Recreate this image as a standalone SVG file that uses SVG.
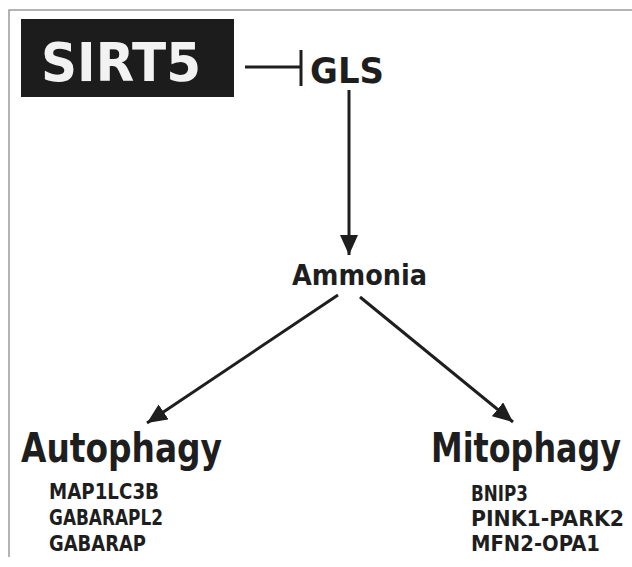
<svg xmlns="http://www.w3.org/2000/svg" width="632" height="567" viewBox="0 0 632 567">
<defs>
<style>
.t{font-family:"DejaVu Sans","Liberation Sans",sans-serif;font-weight:bold;fill:#1e1e1e}
.sub{font-size:21px}
.big{font-size:40px}
.ln{stroke:#1e1e1e;stroke-width:3;fill:none}
</style>
<marker id="ah" markerUnits="userSpaceOnUse" markerWidth="22" markerHeight="18" refX="20" refY="9" orient="auto">
<path d="M0,0 L20,9 L0,18 Z" fill="#1e1e1e"/>
</marker>
</defs>
<rect x="0" y="0" width="632" height="567" fill="#ffffff"/>
<path d="M9,557 V10 H632" fill="none" stroke="#9a9a9a" stroke-width="1.5"/>
<g id="sirt5">
<rect x="21" y="19" width="213" height="78" fill="#1c1c1c"/>
<text class="t" x="41" y="81" font-size="53" textLength="160" lengthAdjust="spacingAndGlyphs" style="fill:#f2f2f2">SIRT5</text>
</g>
<g id="gls">
<text class="t" x="310" y="83" font-size="36" textLength="74" lengthAdjust="spacingAndGlyphs">GLS</text>
</g>
<g id="ammonia">
<text class="t" x="292" y="285" font-size="29" textLength="135" lengthAdjust="spacingAndGlyphs">Ammonia</text>
</g>
<g id="autophagy">
<text class="t big" x="21" y="462" textLength="201" lengthAdjust="spacingAndGlyphs">Autophagy</text>
<text class="t sub" x="49" y="499" textLength="110" lengthAdjust="spacingAndGlyphs">MAP1LC3B</text>
<text class="t sub" x="49" y="525" textLength="114" lengthAdjust="spacingAndGlyphs">GABARAPL2</text>
<text class="t sub" x="49" y="551" textLength="97" lengthAdjust="spacingAndGlyphs">GABARAP</text>
</g>
<g id="mitophagy">
<text class="t big" x="431" y="462" textLength="190" lengthAdjust="spacingAndGlyphs">Mitophagy</text>
<text class="t sub" x="471" y="501" textLength="57" lengthAdjust="spacingAndGlyphs">BNIP3</text>
<text class="t sub" x="471" y="526" textLength="153" lengthAdjust="spacingAndGlyphs">PINK1-PARK2</text>
<text class="t sub" x="471" y="551" textLength="129" lengthAdjust="spacingAndGlyphs">MFN2-OPA1</text>
</g>
<g id="connectors">
<path class="ln" d="M245,67 H301"/>
<path class="ln" d="M301,50 V86"/>
<path class="ln" d="M349,90 V255" marker-end="url(#ah)"/>
<path class="ln" d="M338,295 L147,423" marker-end="url(#ah)"/>
<path class="ln" d="M360,297 L513,422" marker-end="url(#ah)"/>
</g>
</svg>
